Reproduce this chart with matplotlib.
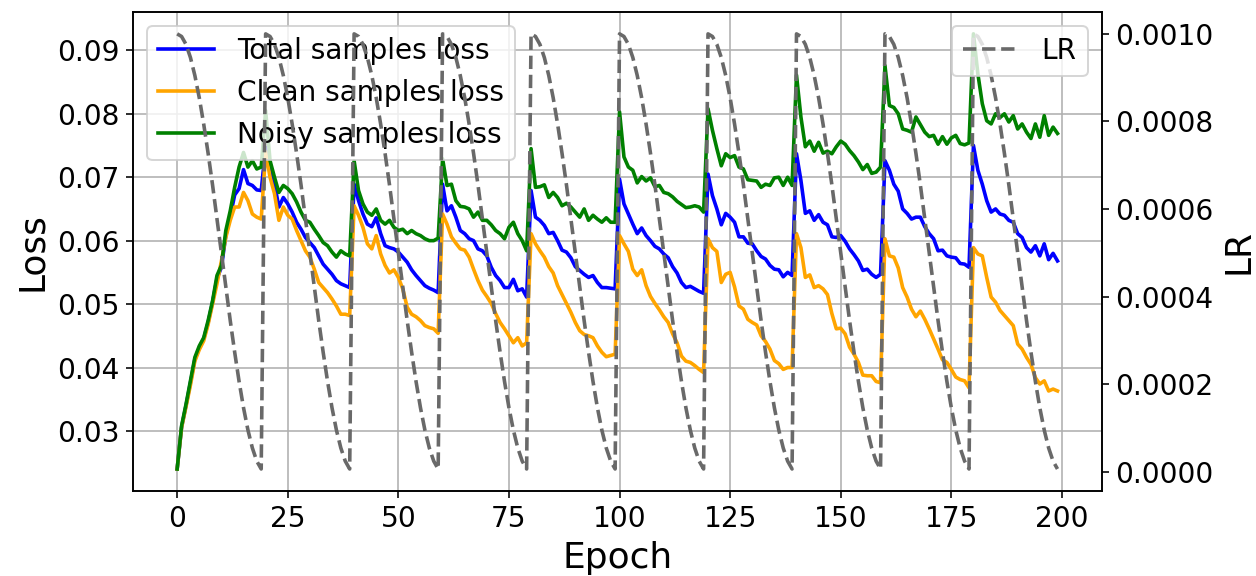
import numpy as np
import matplotlib
matplotlib.use("Agg")
import matplotlib.pyplot as plt

# loss per epoch (10 restarts of 20 epochs)
total_loss = [
    0.0240, 0.0306, 0.0340, 0.0376, 0.0413, 0.0431, 0.0445, 0.0471, 0.0503, 0.0540,
    0.0558, 0.0608, 0.0638, 0.0672, 0.0682, 0.0712, 0.0690, 0.0687, 0.0680, 0.0679,
    0.0747, 0.0711, 0.0689, 0.0653, 0.0668, 0.0658, 0.0645, 0.0629, 0.0618, 0.0605,
    0.0597, 0.0589, 0.0576, 0.0563, 0.0555, 0.0547, 0.0537, 0.0532, 0.0529, 0.0526,
    0.0689, 0.0663, 0.0642, 0.0626, 0.0622, 0.0636, 0.0611, 0.0592, 0.0589, 0.0587,
    0.0582, 0.0574, 0.0566, 0.0554, 0.0545, 0.0537, 0.0529, 0.0525, 0.0522, 0.0518,
    0.0689, 0.0647, 0.0655, 0.0637, 0.0616, 0.0611, 0.0603, 0.0600, 0.0587, 0.0584,
    0.0576, 0.0558, 0.0545, 0.0537, 0.0526, 0.0526, 0.0539, 0.0521, 0.0524, 0.0511,
    0.0679, 0.0637, 0.0632, 0.0624, 0.0611, 0.0613, 0.0600, 0.0585, 0.0582, 0.0573,
    0.0559, 0.0553, 0.0547, 0.0542, 0.0545, 0.0534, 0.0526, 0.0526, 0.0525, 0.0524,
    0.0697, 0.0658, 0.0642, 0.0626, 0.0611, 0.0620, 0.0608, 0.0600, 0.0591, 0.0587,
    0.0579, 0.0573, 0.0559, 0.0549, 0.0534, 0.0526, 0.0528, 0.0524, 0.0520, 0.0517,
    0.0705, 0.0671, 0.0650, 0.0625, 0.0643, 0.0637, 0.0629, 0.0606, 0.0606, 0.0596,
    0.0595, 0.0584, 0.0575, 0.0571, 0.0561, 0.0555, 0.0554, 0.0543, 0.0550, 0.0545,
    0.0737, 0.0695, 0.0643, 0.0647, 0.0632, 0.0641, 0.0629, 0.0625, 0.0606, 0.0605,
    0.0608, 0.0599, 0.0587, 0.0578, 0.0568, 0.0553, 0.0555, 0.0547, 0.0542, 0.0547,
    0.0726, 0.0711, 0.0689, 0.0678, 0.0650, 0.0643, 0.0634, 0.0637, 0.0637, 0.0622,
    0.0611, 0.0603, 0.0584, 0.0585, 0.0576, 0.0574, 0.0573, 0.0564, 0.0563, 0.0558,
    0.0750, 0.0711, 0.0689, 0.0663, 0.0645, 0.0650, 0.0642, 0.0640, 0.0632, 0.0629,
    0.0611, 0.0605, 0.0589, 0.0582, 0.0592, 0.0576, 0.0595, 0.0570, 0.0580, 0.0568,
]

clean_loss = [
    0.0240, 0.0305, 0.0338, 0.0372, 0.0410, 0.0428, 0.0442, 0.0468, 0.0500, 0.0532,
    0.0568, 0.0605, 0.0632, 0.0653, 0.0653, 0.0676, 0.0663, 0.0642, 0.0637, 0.0634,
    0.0740, 0.0700, 0.0674, 0.0632, 0.0653, 0.0640, 0.0634, 0.0616, 0.0600, 0.0584,
    0.0574, 0.0555, 0.0534, 0.0526, 0.0518, 0.0508, 0.0497, 0.0484, 0.0484, 0.0482,
    0.0655, 0.0640, 0.0621, 0.0595, 0.0587, 0.0608, 0.0579, 0.0561, 0.0549, 0.0554,
    0.0542, 0.0524, 0.0495, 0.0484, 0.0480, 0.0474, 0.0466, 0.0463, 0.0461, 0.0454,
    0.0642, 0.0626, 0.0606, 0.0596, 0.0587, 0.0585, 0.0574, 0.0555, 0.0537, 0.0522,
    0.0512, 0.0501, 0.0485, 0.0471, 0.0461, 0.0450, 0.0439, 0.0447, 0.0434, 0.0439,
    0.0611, 0.0595, 0.0584, 0.0574, 0.0559, 0.0549, 0.0529, 0.0515, 0.0501, 0.0487,
    0.0471, 0.0458, 0.0452, 0.0450, 0.0447, 0.0434, 0.0424, 0.0417, 0.0419, 0.0421,
    0.0608, 0.0595, 0.0583, 0.0555, 0.0545, 0.0554, 0.0529, 0.0512, 0.0501, 0.0491,
    0.0480, 0.0471, 0.0453, 0.0439, 0.0418, 0.0410, 0.0408, 0.0403, 0.0397, 0.0392,
    0.0603, 0.0589, 0.0583, 0.0534, 0.0547, 0.0550, 0.0527, 0.0497, 0.0492, 0.0476,
    0.0471, 0.0467, 0.0450, 0.0441, 0.0429, 0.0411, 0.0406, 0.0397, 0.0400, 0.0400,
    0.0611, 0.0589, 0.0542, 0.0546, 0.0526, 0.0529, 0.0524, 0.0515, 0.0485, 0.0461,
    0.0462, 0.0453, 0.0432, 0.0421, 0.0408, 0.0388, 0.0387, 0.0387, 0.0378, 0.0376,
    0.0603, 0.0576, 0.0574, 0.0557, 0.0526, 0.0511, 0.0492, 0.0480, 0.0489, 0.0476,
    0.0461, 0.0445, 0.0429, 0.0412, 0.0408, 0.0397, 0.0385, 0.0381, 0.0379, 0.0368,
    0.0589, 0.0579, 0.0576, 0.0542, 0.0511, 0.0503, 0.0490, 0.0482, 0.0474, 0.0466,
    0.0437, 0.0429, 0.0416, 0.0405, 0.0384, 0.0374, 0.0379, 0.0363, 0.0366, 0.0363,
]

noisy_loss = [
    0.0240, 0.0308, 0.0342, 0.0379, 0.0416, 0.0434, 0.0447, 0.0474, 0.0505, 0.0545,
    0.0561, 0.0616, 0.0647, 0.0684, 0.0716, 0.0739, 0.0716, 0.0726, 0.0713, 0.0716,
    0.0805, 0.0726, 0.0700, 0.0676, 0.0687, 0.0682, 0.0674, 0.0661, 0.0645, 0.0632,
    0.0629, 0.0618, 0.0608, 0.0597, 0.0592, 0.0582, 0.0574, 0.0584, 0.0579, 0.0576,
    0.0726, 0.0679, 0.0658, 0.0645, 0.0640, 0.0650, 0.0632, 0.0626, 0.0632, 0.0621,
    0.0616, 0.0618, 0.0611, 0.0616, 0.0611, 0.0608, 0.0603, 0.0600, 0.0600, 0.0604,
    0.0729, 0.0687, 0.0689, 0.0663, 0.0654, 0.0653, 0.0650, 0.0637, 0.0645, 0.0632,
    0.0632, 0.0625, 0.0616, 0.0611, 0.0603, 0.0621, 0.0629, 0.0611, 0.0600, 0.0584,
    0.0745, 0.0684, 0.0685, 0.0688, 0.0668, 0.0676, 0.0668, 0.0655, 0.0659, 0.0653,
    0.0645, 0.0637, 0.0650, 0.0632, 0.0640, 0.0634, 0.0629, 0.0636, 0.0629, 0.0629,
    0.0803, 0.0732, 0.0716, 0.0711, 0.0691, 0.0701, 0.0694, 0.0699, 0.0685, 0.0687,
    0.0676, 0.0674, 0.0669, 0.0662, 0.0657, 0.0652, 0.0653, 0.0655, 0.0653, 0.0645,
    0.0808, 0.0774, 0.0745, 0.0718, 0.0737, 0.0731, 0.0734, 0.0716, 0.0713, 0.0696,
    0.0695, 0.0694, 0.0684, 0.0689, 0.0687, 0.0699, 0.0700, 0.0687, 0.0700, 0.0687,
    0.0861, 0.0795, 0.0748, 0.0757, 0.0741, 0.0755, 0.0738, 0.0741, 0.0737, 0.0748,
    0.0757, 0.0752, 0.0742, 0.0734, 0.0724, 0.0712, 0.0720, 0.0706, 0.0708, 0.0716,
    0.0876, 0.0813, 0.0810, 0.0800, 0.0776, 0.0774, 0.0771, 0.0795, 0.0783, 0.0771,
    0.0764, 0.0766, 0.0752, 0.0764, 0.0752, 0.0762, 0.0766, 0.0753, 0.0751, 0.0754,
    0.0926, 0.0863, 0.0816, 0.0789, 0.0784, 0.0800, 0.0794, 0.0800, 0.0787, 0.0797,
    0.0776, 0.0784, 0.0771, 0.0761, 0.0784, 0.0763, 0.0797, 0.0766, 0.0779, 0.0769,
]

# learning rate over one 20-epoch restart cycle (same for every cycle)
lr_cycle = [0.001000, 0.000994, 0.000976, 0.000946, 0.000905, 0.000854, 0.000794,
            0.000727, 0.000655, 0.000578, 0.000500, 0.000422, 0.000345, 0.000273,
            0.000206, 0.000146, 0.000095, 0.000054, 0.000024, 0.000006]
lr = lr_cycle * 10

epochs = np.arange(len(total_loss))

fig, ax = plt.subplots(figsize=(1256 / 144, 576 / 144), dpi=144)
fig.subplots_adjust(left=0.106, right=0.877, bottom=0.148, top=0.979)

ax.plot(epochs, total_loss, color="blue", lw=1.8, label="Total samples loss")
ax.plot(epochs, clean_loss, color="orange", lw=1.8, label="Clean samples loss")
ax.plot(epochs, noisy_loss, color="green", lw=1.8, label="Noisy samples loss")
ax.set_xlabel("Epoch", fontsize=18)
ax.set_ylabel("Loss", fontsize=18)
ax.tick_params(labelsize=14)
ax.grid(True)
ax.legend(loc="upper left", fontsize=14)

ax2 = ax.twinx()
ax2.plot(epochs, lr, color="dimgray", ls="--", lw=1.8, label="LR")
ax2.set_ylabel("LR", fontsize=18)
ax2.tick_params(labelsize=14)
ax2.legend(loc="upper right", fontsize=14)

plt.savefig("out.png", dpi=144)
